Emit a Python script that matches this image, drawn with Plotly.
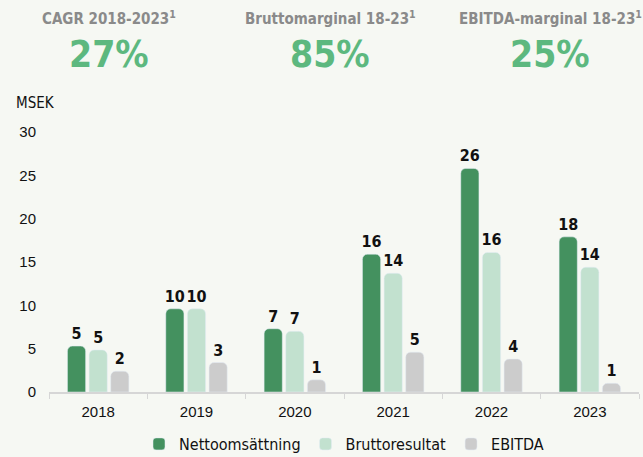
import plotly.graph_objects as go

years = ["2018", "2019", "2020", "2021", "2022", "2023"]
netto = [5.3, 9.6, 7.3, 15.9, 25.8, 17.9]
brutto = [4.85, 9.6, 7.0, 13.7, 16.1, 14.4]
ebitda = [2.4, 3.4, 1.4, 4.6, 3.8, 1.0]

kpi_titles = ["CAGR 2018-2023<sup>1</sup>", "Bruttomarginal 18-23<sup>1</sup>", "EBITDA-marginal 18-23<sup>1</sup>"]
kpi_values = ["27%", "85%", "25%"]
kpi_x = [109, 330, 550]

bg = "#f6f8f3"
narrow = "DejaVu Sans Condensed, Liberation Sans Narrow, Arial Narrow, sans-serif"
regular = "Liberation Sans, Arial, sans-serif"

# plot area in pixels: x 49..639, y 132..392
def px(x):
    return (x - 49) / 590

def py(y):
    return (392 - y) / 260

series = [
    ("Nettoomsättning", netto, "#44915f"),
    ("Bruttoresultat", brutto, "#c2e1cf"),
    ("EBITDA", ebitda, "#cccccc"),
]

fig = go.Figure()
for name, vals, col in series:
    fig.add_trace(go.Bar(
        x=years, y=vals, name=name,
        marker=dict(color=col, cornerradius=5),
        text=[f"<b>{round(v):d}</b>" for v in vals],
        textposition="outside",
        constraintext="none",
        textfont=dict(family=narrow, size=16, color="#111111"),
        cliponaxis=False,
    ))

for t, v, x in zip(kpi_titles, kpi_values, kpi_x):
    fig.add_annotation(x=px(x), y=py(18), xref="paper", yref="paper",
                       yanchor="middle", xanchor="center", showarrow=False,
                       text=f"<b>{t}</b>",
                       font=dict(family=narrow, size=15, color="#8a8a8a"))
    fig.add_annotation(x=px(x), y=py(55), xref="paper", yref="paper",
                       yanchor="middle", xanchor="center", showarrow=False,
                       text=f"<b>{v}</b>",
                       font=dict(family=narrow, size=37, color="#5db87f"))

fig.add_annotation(x=px(14), y=py(103), xref="paper", yref="paper",
                   xanchor="left", yanchor="middle", showarrow=False,
                   text="MSEK", font=dict(family=narrow, size=15, color="#111111"))

fig.update_layout(
    width=643, height=457,
    paper_bgcolor=bg, plot_bgcolor=bg,
    margin=dict(l=49, r=4, t=132, b=65),
    barmode="group", bargap=0.34, bargroupgap=0.16,
    font=dict(family=regular, color="#111111"),
    showlegend=True,
    legend=dict(orientation="h", x=0.5, xanchor="center",
                yref="container", y=1 - 427 / 457, yanchor="top",
                font=dict(family=narrow, size=16, color="#111111"),
                itemwidth=30, traceorder="normal"),
    xaxis=dict(showline=True, linecolor="#d6d6d6", linewidth=2,
               ticks="outside", tickson="boundaries", tickcolor="#d6d6d6", ticklen=5,
               tickfont=dict(family=regular, size=15, color="#111111"),
               ticklabelstandoff=5,
               showgrid=False, automargin=False),
    yaxis=dict(range=[0, 30], dtick=5, showgrid=False, zeroline=False,
               tickfont=dict(family=regular, size=15, color="#111111"),
               ticklabelstandoff=12, automargin=False),
)

fig.write_html("out.html", config={"displayModeBar": False},
               post_script="document.body.style.margin='0';")
